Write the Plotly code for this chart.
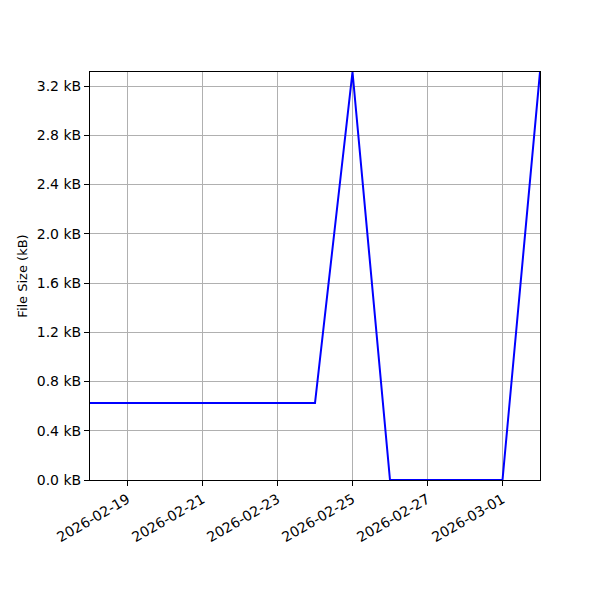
import plotly.graph_objects as go

dates = ["2026-02-18", "2026-02-19", "2026-02-20", "2026-02-21", "2026-02-22",
         "2026-02-23", "2026-02-24", "2026-02-25", "2026-02-26", "2026-02-27",
         "2026-02-28", "2026-03-01", "2026-03-02"]
sizes_kb = [0.625, 0.625, 0.625, 0.625, 0.625, 0.625, 0.625, 3.314,
            0.0, 0.0, 0.0, 0.0, 3.314]

y_tick_vals = [0.0, 0.4, 0.8, 1.2, 1.6, 2.0, 2.4, 2.8, 3.2]
y_tick_text = ["0.0 kB", "0.4 kB", "0.8 kB", "1.2 kB", "1.6 kB",
               "2.0 kB", "2.4 kB", "2.8 kB", "3.2 kB"]
x_tick_vals = ["2026-02-19", "2026-02-21", "2026-02-23", "2026-02-25",
               "2026-02-27", "2026-03-01"]

fig = go.Figure()
fig.add_trace(go.Scatter(x=dates, y=sizes_kb, mode="lines",
                         line=dict(color="#0000ff", width=2)))

font = dict(family="DejaVu Sans", size=14, color="black")
fig.update_layout(
    width=600, height=600,
    margin=dict(l=82, r=68, t=64, b=128),
    paper_bgcolor="white", plot_bgcolor="white",
    showlegend=False,
    font=font,
)
fig.update_xaxes(
    type="date",
    range=[dates[0], dates[-1]],
    tickvals=x_tick_vals,
    tickformat="%Y-%m-%d",
    tickangle=-30,
    showgrid=True, gridcolor="#b0b0b0", gridwidth=1,
    showline=True, linecolor="black", linewidth=1, mirror=True,
    ticks="outside", ticklen=5, tickcolor="black",
    zeroline=False,
)
fig.update_yaxes(
    range=[0, 3.314],
    tickvals=y_tick_vals, ticktext=y_tick_text,
    showgrid=True, gridcolor="#b0b0b0", gridwidth=1,
    showline=True, linecolor="black", linewidth=1, mirror=True,
    ticks="outside", ticklen=5, tickcolor="black",
    zeroline=False,
    title=dict(text="File Size (kB)", font=dict(family="DejaVu Sans", size=13, color="black"), standoff=6),
)
fig.write_html("out.html")
